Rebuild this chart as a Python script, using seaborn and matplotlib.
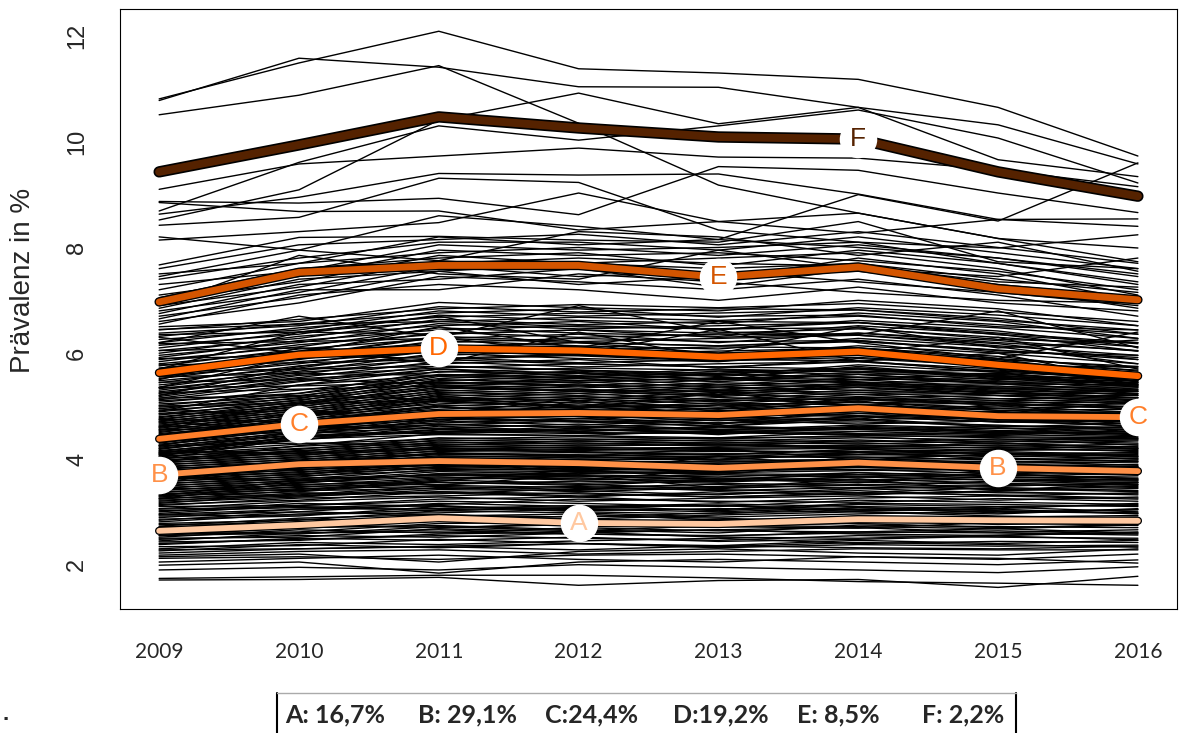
import numpy as np
import pandas as pd
import matplotlib
matplotlib.use("Agg")
import matplotlib.pyplot as plt
import matplotlib.patheffects as pe
from matplotlib.lines import Line2D
import seaborn as sns

years = [2009, 2010, 2011, 2012, 2013, 2014, 2015, 2016]

# one row per region (Prävalenz in %, 2009..2016)
regions = [
    # high outliers
    [10.81, 11.49, 12.09, 11.38, 11.30, 11.18, 10.65, 9.73],
    [10.78, 11.58, 11.41, 11.04, 11.03, 10.65, 10.32, 9.58],
    [10.51, 10.88, 11.44, 10.35, 9.18, 8.65, 8.17, 7.99],
    [8.52, 9.09, 10.41, 10.92, 10.34, 10.65, 9.66, 9.34],
    [8.69, 9.61, 10.30, 10.03, 10.30, 10.60, 10.07, 9.22],
    [9.10, 9.58, 9.73, 9.88, 9.71, 9.69, 9.47, 9.15],
    [8.87, 8.84, 8.93, 8.62, 9.53, 9.46, 9.03, 8.66],
    [8.85, 8.68, 8.69, 8.33, 8.49, 8.27, 8.53, 8.54],
    [8.63, 8.95, 9.40, 9.37, 9.39, 9.01, 8.53, 8.40],
    [8.42, 8.57, 9.31, 9.23, 8.33, 8.10, 7.99, 8.24],
    [8.14, 8.30, 8.47, 9.03, 8.49, 8.65, 8.17, 7.73],
    [7.67, 8.19, 8.21, 8.14, 8.10, 8.49, 7.73, 7.60],
    [8.20, 7.95, 8.60, 8.40, 8.15, 9.00, 8.50, 9.60],
    # E range
    [6.55, 7.10, 7.30, 7.20, 7.00, 7.25, 6.95, 6.80],
    [6.60, 6.95, 7.45, 7.35, 7.20, 7.40, 7.10, 6.70],
    [6.65, 7.20, 7.20, 7.50, 7.35, 7.15, 7.00, 6.95],
    [6.70, 7.05, 7.55, 7.30, 7.45, 7.55, 7.25, 6.85],
    [6.75, 7.30, 7.40, 7.60, 7.25, 7.60, 7.30, 7.05],
    [6.80, 7.15, 7.65, 7.45, 7.55, 7.35, 7.15, 6.90],
    [6.85, 7.40, 7.55, 7.70, 7.60, 7.70, 7.40, 7.15],
    [6.90, 7.25, 7.75, 7.60, 7.40, 7.80, 7.50, 7.00],
    [6.95, 7.50, 7.70, 7.80, 7.70, 7.65, 7.35, 7.25],
    [7.00, 7.35, 7.85, 7.70, 7.80, 7.90, 7.60, 7.10],
    [7.05, 7.60, 7.80, 7.90, 7.65, 7.95, 7.70, 7.35],
    [7.10, 7.45, 7.95, 7.85, 7.90, 7.75, 7.55, 7.20],
    [7.20, 7.70, 7.90, 8.00, 7.85, 8.05, 7.80, 7.45],
    [7.30, 7.55, 8.05, 7.95, 8.00, 8.10, 7.70, 7.30],
    [7.40, 7.80, 8.10, 8.10, 7.95, 8.20, 7.90, 7.60],
    [7.50, 7.70, 8.20, 8.05, 8.15, 8.00, 7.80, 7.50],
    [7.60, 8.05, 8.15, 8.25, 8.05, 8.30, 8.00, 7.70],
    [7.45, 7.95, 7.75, 8.30, 8.20, 7.85, 8.10, 7.55],
    [6.90, 7.85, 7.50, 7.40, 7.95, 7.60, 7.45, 7.80],
    # D range
    [5.12, 5.40, 5.58, 5.64, 5.50, 5.60, 5.42, 5.30],
    [5.15, 5.46, 5.70, 5.56, 5.62, 5.72, 5.54, 5.40],
    [5.18, 5.52, 5.64, 5.72, 5.68, 5.66, 5.60, 5.48],
    [5.21, 5.48, 5.76, 5.68, 5.58, 5.78, 5.64, 5.36],
    [5.24, 5.58, 5.72, 5.80, 5.74, 5.70, 5.52, 5.56],
    [5.27, 5.54, 5.84, 5.74, 5.80, 5.84, 5.70, 5.46],
    [5.30, 5.64, 5.80, 5.88, 5.72, 5.90, 5.76, 5.60],
    [5.33, 5.60, 5.92, 5.82, 5.88, 5.86, 5.64, 5.52],
    [5.36, 5.70, 5.88, 5.96, 5.90, 5.96, 5.82, 5.68],
    [5.40, 5.66, 6.00, 5.90, 5.84, 6.02, 5.88, 5.58],
    [5.44, 5.76, 5.96, 6.04, 5.98, 5.98, 5.76, 5.74],
    [5.48, 5.72, 6.08, 5.98, 6.04, 6.10, 5.94, 5.66],
    [5.52, 5.84, 6.04, 6.12, 5.96, 6.14, 6.00, 5.80],
    [5.56, 5.80, 6.16, 6.06, 6.12, 6.10, 5.90, 5.72],
    [5.60, 5.92, 6.12, 6.20, 6.14, 6.22, 6.06, 5.88],
    [5.64, 5.88, 6.24, 6.14, 6.08, 6.28, 6.12, 5.80],
    [5.68, 6.00, 6.20, 6.28, 6.22, 6.24, 6.02, 5.96],
    [5.72, 5.96, 6.32, 6.22, 6.28, 6.34, 6.18, 5.88],
    [5.76, 6.08, 6.28, 6.36, 6.20, 6.38, 6.24, 6.04],
    [5.80, 6.04, 6.40, 6.30, 6.36, 6.34, 6.14, 5.96],
    [5.84, 6.16, 6.36, 6.44, 6.38, 6.46, 6.30, 6.12],
    [5.88, 6.12, 6.48, 6.38, 6.32, 6.52, 6.36, 6.04],
    [5.92, 6.24, 6.44, 6.52, 6.46, 6.48, 6.26, 6.20],
    [5.96, 6.20, 6.56, 6.46, 6.52, 6.58, 6.42, 6.12],
    [6.00, 6.32, 6.52, 6.60, 6.44, 6.62, 6.48, 6.28],
    [6.05, 6.28, 6.64, 6.54, 6.60, 6.58, 6.38, 6.20],
    [6.10, 6.40, 6.60, 6.68, 6.62, 6.70, 6.54, 6.36],
    [6.15, 6.36, 6.72, 6.62, 6.56, 6.76, 6.60, 6.28],
    [6.20, 6.48, 6.68, 6.76, 6.70, 6.72, 6.50, 6.44],
    [6.26, 6.44, 6.80, 6.70, 6.76, 6.82, 6.66, 6.36],
    [6.32, 6.56, 6.76, 6.84, 6.68, 6.86, 6.72, 6.52],
    [6.38, 6.52, 6.88, 6.78, 6.84, 6.82, 6.62, 6.44],
    [6.44, 6.64, 6.84, 6.92, 6.86, 6.94, 6.78, 6.60],
    [6.50, 6.60, 6.96, 6.86, 6.80, 7.00, 6.84, 6.52],
    [5.50, 6.10, 5.80, 6.40, 5.90, 6.00, 6.30, 5.70],
    [6.30, 6.00, 6.50, 6.10, 6.60, 6.20, 5.90, 6.40],
    [5.70, 6.40, 6.70, 6.20, 6.00, 6.50, 6.10, 6.25],
    [6.20, 6.70, 6.30, 6.90, 6.40, 6.35, 6.80, 6.10],
    [5.35, 5.95, 6.30, 6.00, 6.45, 5.85, 6.00, 5.45],
    [5.45, 5.50, 5.42, 5.48, 5.52, 5.46, 5.34, 5.28],
    [5.55, 5.62, 5.58, 5.52, 5.60, 5.55, 5.44, 5.38],
    [5.65, 5.70, 5.75, 5.68, 5.62, 5.72, 5.58, 5.42],
    [5.78, 5.82, 5.88, 5.80, 5.74, 5.84, 5.66, 5.55],
    [5.90, 5.95, 5.90, 5.98, 5.86, 5.92, 5.78, 5.62],
    [6.05, 6.10, 6.02, 6.08, 6.00, 6.04, 5.88, 5.75],
    [6.18, 6.22, 6.28, 6.20, 6.14, 6.24, 6.05, 5.92],
    [6.35, 6.40, 6.36, 6.44, 6.30, 6.38, 6.20, 6.05],
    [6.45, 6.55, 6.60, 6.50, 6.46, 6.58, 6.35, 6.18],
    [4.90, 5.40, 5.70, 5.62, 5.50, 5.75, 5.55, 5.40],
    [5.20, 5.75, 6.05, 5.95, 5.85, 6.05, 5.85, 5.60],
    # C range
    [4.14, 4.42, 4.50, 4.58, 4.46, 4.62, 4.54, 4.48],
    [4.16, 4.36, 4.62, 4.52, 4.60, 4.56, 4.62, 4.58],
    [4.18, 4.50, 4.58, 4.66, 4.56, 4.60, 4.50, 4.62],
    [4.20, 4.40, 4.66, 4.60, 4.68, 4.70, 4.64, 4.54],
    [4.22, 4.52, 4.64, 4.72, 4.62, 4.74, 4.60, 4.68],
    [4.24, 4.46, 4.72, 4.64, 4.74, 4.66, 4.72, 4.62],
    [4.26, 4.58, 4.68, 4.76, 4.68, 4.80, 4.70, 4.72],
    [4.28, 4.50, 4.78, 4.70, 4.76, 4.74, 4.80, 4.66],
    [4.30, 4.60, 4.74, 4.82, 4.72, 4.86, 4.74, 4.78],
    [4.32, 4.54, 4.82, 4.76, 4.86, 4.80, 4.84, 4.74],
    [4.34, 4.64, 4.80, 4.88, 4.78, 4.90, 4.82, 4.84],
    [4.36, 4.58, 4.86, 4.80, 4.92, 4.86, 4.90, 4.78],
    [4.38, 4.68, 4.84, 4.92, 4.84, 4.96, 4.86, 4.90],
    [4.40, 4.62, 4.92, 4.86, 4.96, 4.92, 4.96, 4.84],
    [4.42, 4.72, 4.90, 4.98, 4.88, 5.02, 4.92, 4.94],
    [4.44, 4.66, 4.98, 4.90, 5.02, 4.96, 5.00, 4.88],
    [4.46, 4.76, 4.94, 5.04, 4.94, 5.08, 4.96, 5.00],
    [4.48, 4.70, 5.02, 4.96, 5.06, 5.02, 5.06, 4.94],
    [4.50, 4.80, 5.00, 5.08, 4.98, 5.12, 5.02, 5.04],
    [4.52, 4.74, 5.08, 5.00, 5.12, 5.06, 5.10, 4.98],
    [4.54, 4.84, 5.04, 5.14, 5.04, 5.18, 5.06, 5.08],
    [4.56, 4.78, 5.12, 5.06, 5.16, 5.12, 5.14, 5.04],
    [4.58, 4.88, 5.10, 5.18, 5.08, 5.22, 5.10, 5.12],
    [4.60, 4.82, 5.16, 5.10, 5.22, 5.16, 5.20, 5.06],
    [4.62, 4.92, 5.14, 5.24, 5.12, 5.26, 5.14, 5.16],
    [4.64, 4.86, 5.22, 5.14, 5.26, 5.22, 5.24, 5.12],
    [4.66, 4.96, 5.18, 5.28, 5.18, 5.30, 5.20, 5.20],
    [4.68, 4.90, 5.26, 5.20, 5.30, 5.26, 5.28, 5.16],
    [4.70, 5.00, 5.24, 5.32, 5.22, 5.36, 5.24, 5.24],
    [4.72, 4.94, 5.30, 5.24, 5.36, 5.30, 5.34, 5.20],
    [4.74, 5.04, 5.28, 5.38, 5.26, 5.40, 5.28, 5.28],
    [4.76, 4.98, 5.36, 5.28, 5.40, 5.36, 5.38, 5.24],
    [4.78, 5.08, 5.32, 5.42, 5.30, 5.44, 5.32, 5.32],
    [4.80, 5.02, 5.40, 5.34, 5.44, 5.40, 5.42, 5.28],
    [4.83, 5.12, 5.38, 5.46, 5.36, 5.50, 5.36, 5.36],
    [4.86, 5.06, 5.46, 5.38, 5.50, 5.44, 5.48, 5.32],
    [4.89, 5.16, 5.42, 5.52, 5.40, 5.54, 5.42, 5.40],
    [4.92, 5.10, 5.50, 5.44, 5.54, 5.50, 5.52, 5.36],
    [4.95, 5.20, 5.48, 5.56, 5.46, 5.60, 5.46, 5.44],
    [4.98, 5.14, 5.56, 5.48, 5.60, 5.54, 5.58, 5.40],
    [5.01, 5.24, 5.52, 5.62, 5.50, 5.64, 5.50, 5.48],
    [5.04, 5.18, 5.60, 5.54, 5.66, 5.60, 5.62, 5.44],
    [5.07, 5.30, 5.58, 5.66, 5.56, 5.70, 5.56, 5.52],
    [5.10, 5.24, 5.66, 5.58, 5.70, 5.64, 5.68, 5.48],
    [4.40, 4.90, 4.70, 5.10, 4.80, 4.75, 5.05, 4.70],
    [4.95, 4.80, 5.20, 4.95, 5.25, 5.00, 4.85, 5.10],
    [4.25, 4.70, 5.00, 4.80, 4.65, 4.95, 4.70, 4.90],
    [4.70, 4.55, 4.85, 5.15, 4.90, 5.10, 4.80, 4.60],
    [4.45, 4.50, 4.48, 4.55, 4.52, 4.46, 4.50, 4.44],
    [4.55, 4.60, 4.58, 4.52, 4.62, 4.56, 4.48, 4.52],
    [4.62, 4.55, 4.65, 4.60, 4.55, 4.64, 4.58, 4.56],
    [4.75, 4.70, 4.78, 4.72, 4.68, 4.76, 4.62, 4.60],
    [4.85, 4.92, 4.80, 4.84, 4.90, 4.82, 4.74, 4.70],
    [5.00, 5.05, 5.10, 4.98, 5.02, 5.08, 4.92, 4.86],
    [5.15, 5.20, 5.12, 5.18, 5.10, 5.14, 5.02, 4.98],
    [5.25, 5.32, 5.38, 5.30, 5.28, 5.35, 5.20, 5.10],
    [5.35, 5.38, 5.45, 5.40, 5.32, 5.42, 5.30, 5.22],
    [4.05, 4.45, 4.75, 4.70, 4.62, 4.80, 4.70, 4.66],
    [4.35, 4.80, 5.10, 5.00, 4.95, 5.15, 5.05, 4.95],
    [4.60, 5.05, 5.35, 5.28, 5.20, 5.40, 5.25, 5.15],
    [4.10, 4.42, 4.52, 4.48, 4.50, 4.45, 4.40, 4.38],
    [4.00, 4.40, 4.56, 4.55, 4.50, 4.60, 4.50, 4.48],
    [4.20, 4.45, 4.50, 4.62, 4.56, 4.52, 4.58, 4.50],
    [4.12, 4.38, 4.46, 4.44, 4.54, 4.48, 4.44, 4.56],
    # B range
    [3.12, 3.26, 3.30, 3.36, 3.28, 3.34, 3.38, 3.32],
    [3.14, 3.22, 3.38, 3.30, 3.34, 3.40, 3.30, 3.36],
    [3.16, 3.34, 3.36, 3.28, 3.38, 3.32, 3.40, 3.44],
    [3.18, 3.28, 3.42, 3.40, 3.32, 3.44, 3.36, 3.34],
    [3.20, 3.36, 3.34, 3.44, 3.42, 3.36, 3.46, 3.40],
    [3.22, 3.30, 3.46, 3.38, 3.46, 3.50, 3.42, 3.48],
    [3.24, 3.40, 3.44, 3.48, 3.40, 3.46, 3.44, 3.38],
    [3.26, 3.32, 3.50, 3.46, 3.52, 3.44, 3.50, 3.52],
    [3.28, 3.44, 3.48, 3.42, 3.48, 3.56, 3.52, 3.46],
    [3.30, 3.38, 3.56, 3.52, 3.44, 3.52, 3.48, 3.56],
    [3.32, 3.48, 3.52, 3.58, 3.54, 3.50, 3.58, 3.52],
    [3.34, 3.42, 3.60, 3.54, 3.58, 3.62, 3.54, 3.50],
    [3.36, 3.52, 3.56, 3.50, 3.60, 3.58, 3.62, 3.60],
    [3.38, 3.46, 3.62, 3.64, 3.56, 3.66, 3.60, 3.58],
    [3.40, 3.56, 3.66, 3.60, 3.64, 3.60, 3.66, 3.64],
    [3.42, 3.50, 3.64, 3.68, 3.62, 3.70, 3.64, 3.68],
    [3.44, 3.60, 3.70, 3.66, 3.70, 3.66, 3.72, 3.62],
    [3.46, 3.54, 3.72, 3.70, 3.66, 3.74, 3.68, 3.72],
    [3.48, 3.64, 3.68, 3.74, 3.72, 3.70, 3.76, 3.70],
    [3.50, 3.58, 3.76, 3.72, 3.78, 3.80, 3.72, 3.76],
    [3.52, 3.68, 3.78, 3.76, 3.74, 3.78, 3.80, 3.74],
    [3.54, 3.62, 3.80, 3.82, 3.76, 3.84, 3.78, 3.80],
    [3.56, 3.72, 3.82, 3.78, 3.82, 3.80, 3.84, 3.78],
    [3.58, 3.66, 3.86, 3.80, 3.86, 3.88, 3.82, 3.86],
    [3.60, 3.76, 3.84, 3.88, 3.80, 3.86, 3.88, 3.82],
    [3.62, 3.70, 3.90, 3.86, 3.90, 3.84, 3.86, 3.90],
    [3.64, 3.80, 3.88, 3.84, 3.92, 3.94, 3.90, 3.86],
    [3.66, 3.74, 3.94, 3.92, 3.88, 3.96, 3.92, 3.94],
    [3.68, 3.84, 3.96, 3.90, 3.96, 3.92, 3.96, 3.88],
    [3.70, 3.78, 3.98, 3.96, 3.94, 4.00, 3.94, 3.98],
    [3.72, 3.88, 3.96, 4.00, 3.98, 3.98, 4.02, 3.96],
    [3.74, 3.82, 4.02, 3.98, 4.04, 4.04, 3.98, 4.02],
    [3.76, 3.92, 4.04, 4.04, 4.00, 4.08, 4.06, 4.00],
    [3.78, 3.86, 4.06, 4.02, 4.06, 4.02, 4.08, 4.06],
    [3.80, 3.96, 4.08, 4.08, 4.04, 4.12, 4.04, 4.10],
    [3.82, 3.90, 4.12, 4.06, 4.10, 4.08, 4.12, 4.04],
    [3.84, 4.00, 4.10, 4.12, 4.14, 4.14, 4.10, 4.12],
    [3.86, 3.94, 4.16, 4.14, 4.08, 4.18, 4.14, 4.08],
    [3.88, 4.04, 4.14, 4.18, 4.16, 4.12, 4.18, 4.16],
    [3.90, 3.98, 4.20, 4.16, 4.20, 4.22, 4.16, 4.20],
    [3.92, 4.08, 4.18, 4.22, 4.18, 4.20, 4.22, 4.14],
    [3.94, 4.02, 4.24, 4.20, 4.22, 4.26, 4.20, 4.24],
    [3.96, 4.12, 4.22, 4.26, 4.26, 4.24, 4.26, 4.18],
    [3.98, 4.06, 4.28, 4.24, 4.28, 4.30, 4.24, 4.28],
    [4.00, 4.16, 4.26, 4.30, 4.24, 4.34, 4.30, 4.22],
    [4.02, 4.10, 4.32, 4.28, 4.32, 4.28, 4.34, 4.30],
    [4.04, 4.20, 4.30, 4.34, 4.30, 4.36, 4.28, 4.34],
    [4.06, 4.14, 4.36, 4.32, 4.36, 4.32, 4.38, 4.26],
    [4.08, 4.24, 4.34, 4.38, 4.34, 4.40, 4.36, 4.38],
    [4.10, 4.18, 4.40, 4.36, 4.40, 4.42, 4.32, 4.36],
    [4.12, 4.28, 4.38, 4.42, 4.38, 4.44, 4.42, 4.40],
    [3.30, 3.60, 3.50, 3.70, 3.45, 3.62, 3.40, 3.55],
    [3.80, 3.70, 3.95, 3.75, 4.05, 3.85, 3.90, 3.70],
    [3.45, 3.40, 3.58, 3.80, 3.62, 3.55, 3.75, 3.85],
    [3.95, 4.15, 3.92, 4.05, 4.20, 3.98, 4.10, 4.00],
    [3.60, 3.85, 4.00, 3.78, 3.70, 3.95, 3.72, 3.62],
    [3.95, 4.25, 4.48, 4.44, 4.40, 4.52, 4.46, 4.42],
    [4.08, 4.36, 4.55, 4.50, 4.48, 4.58, 4.52, 4.46],
    [3.55, 3.90, 4.10, 4.05, 3.98, 4.12, 4.00, 3.95],
    [3.25, 3.55, 3.72, 3.68, 3.60, 3.74, 3.66, 3.60],
    [3.35, 3.30, 3.38, 3.34, 3.28, 3.36, 3.32, 3.26],
    [3.65, 3.60, 3.70, 3.62, 3.58, 3.66, 3.60, 3.55],
    [3.85, 3.80, 3.88, 3.84, 3.78, 3.86, 3.80, 3.74],
    [4.15, 4.10, 4.20, 4.12, 4.08, 4.18, 4.10, 4.05],
    [4.25, 4.30, 4.26, 4.34, 4.28, 4.22, 4.30, 4.20],
    # A range
    [2.22, 2.30, 2.34, 2.28, 2.36, 2.32, 2.30, 2.35],
    [2.26, 2.38, 2.32, 2.40, 2.34, 2.42, 2.38, 2.33],
    [2.30, 2.42, 2.38, 2.45, 2.50, 2.40, 2.44, 2.42],
    [2.34, 2.36, 2.48, 2.40, 2.36, 2.46, 2.40, 2.46],
    [2.38, 2.50, 2.46, 2.52, 2.44, 2.48, 2.54, 2.47],
    [2.40, 2.48, 2.55, 2.50, 2.46, 2.55, 2.52, 2.50],
    [2.43, 2.46, 2.58, 2.62, 2.52, 2.50, 2.56, 2.60],
    [2.45, 2.60, 2.62, 2.58, 2.55, 2.60, 2.64, 2.58],
    [2.48, 2.55, 2.52, 2.60, 2.66, 2.58, 2.55, 2.62],
    [2.50, 2.52, 2.68, 2.62, 2.66, 2.70, 2.61, 2.66],
    [2.52, 2.66, 2.60, 2.70, 2.64, 2.62, 2.68, 2.60],
    [2.55, 2.70, 2.74, 2.66, 2.60, 2.75, 2.72, 2.70],
    [2.58, 2.62, 2.78, 2.80, 2.72, 2.69, 2.80, 2.74],
    [2.60, 2.58, 2.72, 2.64, 2.74, 2.78, 2.70, 2.76],
    [2.62, 2.75, 2.70, 2.76, 2.82, 2.85, 2.76, 2.80],
    [2.65, 2.80, 2.90, 2.84, 2.78, 2.92, 2.88, 2.84],
    [2.68, 2.86, 2.82, 2.78, 2.86, 2.80, 2.84, 2.90],
    [2.70, 2.72, 2.85, 2.92, 2.88, 2.80, 2.90, 2.93],
    [2.73, 2.88, 2.95, 2.86, 2.94, 3.00, 2.92, 2.88],
    [2.76, 2.78, 2.92, 2.96, 2.84, 2.90, 2.86, 2.82],
    [2.78, 2.84, 3.02, 2.98, 2.90, 2.96, 3.01, 2.97],
    [2.81, 2.96, 2.98, 3.05, 3.00, 3.08, 2.98, 3.04],
    [2.84, 3.00, 2.94, 2.90, 2.98, 3.02, 3.05, 2.96],
    [2.86, 2.92, 3.10, 3.02, 3.06, 3.04, 3.09, 3.00],
    [2.89, 3.05, 3.06, 3.12, 3.02, 3.14, 3.10, 3.12],
    [2.92, 2.94, 3.04, 3.08, 3.12, 3.00, 2.96, 3.06],
    [2.94, 3.00, 3.16, 3.10, 3.15, 3.10, 3.06, 3.16],
    [2.97, 3.12, 3.20, 3.16, 3.10, 3.22, 3.18, 3.14],
    [3.00, 3.16, 3.10, 3.06, 3.04, 3.16, 3.14, 3.10],
    [3.02, 3.08, 3.14, 3.24, 3.20, 3.18, 3.25, 3.20],
    [3.06, 3.20, 3.28, 3.20, 3.26, 3.30, 3.22, 3.28],
    [3.10, 3.12, 3.24, 3.28, 3.18, 3.26, 3.30, 3.24],
    [3.05, 3.10, 3.02, 3.08, 3.12, 3.05, 3.00, 3.04],
    [2.95, 3.05, 3.12, 3.00, 2.96, 3.08, 3.02, 2.98],
    [2.72, 2.76, 2.70, 2.78, 2.74, 2.72, 2.68, 2.75],
    [2.55, 2.60, 2.66, 2.58, 2.54, 2.62, 2.60, 2.56],
    # low outliers
    [1.71, 1.72, 1.76, 1.61, 1.70, 1.72, 1.57, 1.78],
    [1.74, 1.77, 1.80, 1.80, 1.75, 1.68, 1.65, 1.61],
    [1.90, 1.95, 1.90, 2.00, 1.95, 1.90, 1.85, 1.96],
    [1.99, 2.05, 1.84, 2.05, 2.10, 2.05, 2.00, 2.09],
    [2.12, 2.15, 2.10, 2.18, 2.20, 2.15, 2.10, 2.20],
    [2.18, 2.25, 2.28, 2.20, 2.25, 2.30, 2.28, 2.28],
    [2.28, 2.30, 2.35, 2.40, 2.32, 2.38, 2.35, 2.37],
    [2.05, 2.12, 2.18, 2.10, 2.05, 2.15, 2.12, 2.03],
    [2.15, 2.20, 2.05, 2.25, 2.30, 2.22, 2.18, 2.30],
]

# cluster means
cluster_names = ["A", "B", "C", "D", "E", "F"]
cluster_A = [2.64, 2.75, 2.88, 2.79, 2.77, 2.86, 2.84, 2.83]
cluster_B = [3.70, 3.90, 3.96, 3.92, 3.83, 3.93, 3.83, 3.77]
cluster_C = [4.38, 4.66, 4.85, 4.87, 4.83, 4.96, 4.81, 4.79]
cluster_D = [5.63, 5.97, 6.09, 6.05, 5.93, 6.03, 5.78, 5.57]
cluster_E = [6.97, 7.53, 7.66, 7.66, 7.44, 7.63, 7.22, 7.01]
cluster_F = [9.43, 9.94, 10.47, 10.26, 10.09, 10.05, 9.43, 8.97]
cluster_values = [cluster_A, cluster_B, cluster_C, cluster_D, cluster_E, cluster_F]
label_years = [[2012], [2009, 2015], [2010, 2016], [2011], [2013], [2014]]
legend_texts = ["A: 16,7%", "B: 29,1%", "C:24,4%", "D:19,2%", "E: 8,5%", "F: 2,2%"]

colors = ["#ffc8a0", "#ff9148", "#ff7f2a", "#ff6600", "#d45500", "#552200"]
widths = [(6.0, 4.2), (6.0, 4.2), (6.0, 4.2), (6.3, 4.5), (6.8, 4.9), (8.2, 5.8)]

sns.set_style("white")
plt.rcParams["font.family"] = ["Liberation Sans", "DejaVu Sans"]

long = pd.DataFrame(
    [(i, y, v) for i, row in enumerate(regions) for y, v in zip(years, row)],
    columns=["region", "year", "value"],
)

fig = plt.figure(figsize=(11.8, 7.33), dpi=100)
ax = fig.add_axes([0.1017, 0.1692, 0.8958, 0.8181])

sns.lineplot(data=long, x="year", y="value", units="region", estimator=None,
             color="black", lw=1.0, ax=ax, legend=False)

for name, vals, c, (outer, inner) in zip(cluster_names, cluster_values, colors, widths):
    sns.lineplot(x=years, y=vals, color=c, lw=inner, ax=ax, legend=False,
                 solid_capstyle="round", solid_joinstyle="round",
                 path_effects=[pe.Stroke(linewidth=outer, foreground="black"), pe.Normal()])

for name, vals, c, yrs in zip(cluster_names, cluster_values, colors, label_years):
    for yr in yrs:
        v = vals[years.index(yr)]
        ax.plot(yr, v, "o", ms=26, mfc="white", mec="white", zorder=5)
        ax.text(yr, v, name, color=c, fontsize=19, ha="center", va="center", zorder=6)

ax.set_xlim(2009 - 0.28, 2016 + 0.28)
ax.set_ylim(1.162, 12.505)
ax.set_xticks(years)
ax.set_xticklabels([str(y) for y in years], fontfamily="Lato", fontsize=15)
ax.set_yticks([2, 4, 6, 8, 10, 12])
ax.set_yticklabels(["2", "4", "6", "8", "10", "12"], rotation=90, va="center", fontsize=17)
ax.tick_params(axis="both", direction="out", length=10, width=0.8, color="black")
ax.tick_params(axis="x", pad=14)
ax.tick_params(axis="y", pad=13)
ax.set_xlabel("")
ax.set_ylabel("")
for s in ax.spines.values():
    s.set_visible(True)
    s.set_color("black")
    s.set_linewidth(0.8)

fig.text(23 / 1180, 1 - 280 / 733, "Prävalenz in %", rotation=90, fontsize=20,
         ha="center", va="center")

# legend box below the chart
W, H = 1180, 733
fig.add_artist(Line2D([277 / W, 277 / W], [1 - 693 / H, -0.01], color="black", lw=1.5))
fig.add_artist(Line2D([1016 / W, 1016 / W], [1 - 693 / H, -0.01], color="black", lw=1.5))
fig.add_artist(Line2D([277 / W, 1016 / W], [1 - 693 / H, 1 - 693 / H], color="#aaaaaa", lw=1.0))
legend_x = [285, 418, 545, 673, 797, 922]
for x, t in zip(legend_x, legend_texts):
    fig.text(x / W, 1 - 715 / H, t, fontfamily="Lato", fontweight="bold", fontsize=18,
             ha="left", va="center")
fig.text(3 / W, 1 - 714 / H, ".", fontweight="bold", fontsize=16, ha="left", va="center")

fig.savefig("out.png", dpi=100)
